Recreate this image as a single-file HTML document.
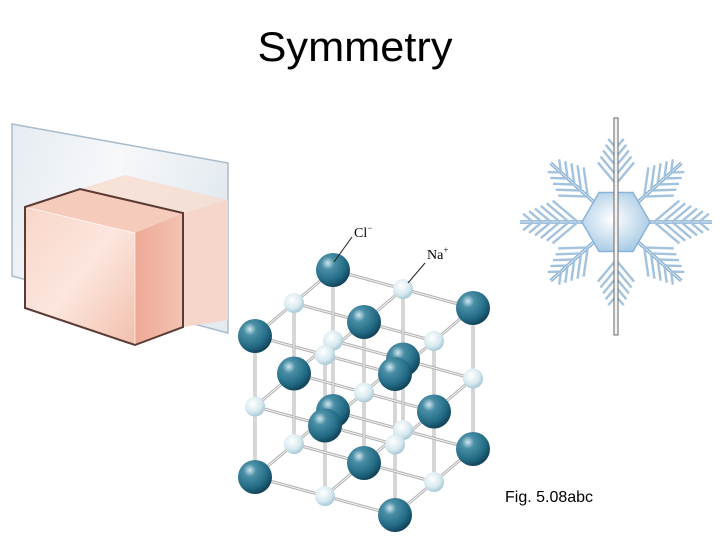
<!DOCTYPE html>
<html><head><meta charset="utf-8"><style>
html,body{margin:0;padding:0;background:#fff;width:720px;height:540px;overflow:hidden}
svg{display:block}
</style></head><body>
<svg id="s" width="720" height="540" viewBox="0 0 720 540" xmlns="http://www.w3.org/2000/svg">
<defs>
<radialGradient id="cl" cx="0.35" cy="0.3" r="0.75">
<stop offset="0" stop-color="#cfe6ee"/><stop offset="0.25" stop-color="#4a8fa6"/><stop offset="0.7" stop-color="#226a84"/><stop offset="1" stop-color="#0f3e52"/></radialGradient>
<radialGradient id="na" cx="0.4" cy="0.35" r="0.7">
<stop offset="0" stop-color="#ffffff"/><stop offset="0.6" stop-color="#d8eaf0"/><stop offset="1" stop-color="#9fc3d0"/></radialGradient>
<linearGradient id="plane" x1="0" y1="0" x2="1" y2="0.3">
<stop offset="0" stop-color="#e6ecf2"/><stop offset="0.5" stop-color="#f6f8fa"/><stop offset="1" stop-color="#e3eaf0"/></linearGradient>
<linearGradient id="front" x1="0" y1="0" x2="1" y2="1">
<stop offset="0" stop-color="#f8d6c9"/><stop offset="0.5" stop-color="#fce6de"/><stop offset="1" stop-color="#f2bfac"/></linearGradient>
<linearGradient id="side" x1="0" y1="0" x2="1" y2="0">
<stop offset="0" stop-color="#eea995"/><stop offset="1" stop-color="#f3c3b2"/></linearGradient>
<radialGradient id="hex" cx="0.45" cy="0.45" r="0.6">
<stop offset="0" stop-color="#ffffff"/><stop offset="1" stop-color="#a6c9e4"/></radialGradient>
</defs>
<text x="355" y="61" font-family="Liberation Sans, sans-serif" font-size="42" text-anchor="middle" textLength="195" lengthAdjust="spacingAndGlyphs">Symmetry</text>

<polygon points="12,124 228,163 228,333 12,276" fill="url(#plane)" stroke="#a9bccb" stroke-width="1.5"/>
<polygon points="80,189 125,175 228,200 228,320 183,327 183,213" fill="#f8dcd0" opacity="0.8"/>
<polygon points="183,213 228,200 228,320 183,327" fill="#f6d2c4" opacity="0.7"/>
<polygon points="25,207 80,189 183,213 135,233" fill="#f5cbbb"/>
<polygon points="25,207 135,233 135,345 25,308" fill="url(#front)"/>
<polygon points="135,233 183,213 183,327 135,345" fill="url(#side)"/>
<polyline points="25,207 135,233 135,345" fill="none" stroke="#fff" stroke-width="1" opacity="0.6"/>
<polygon points="25,207 80,189 183,213 183,327 135,345 25,308" fill="none" stroke="#5a3a32" stroke-width="2"/>

<g id="lat"></g>
<line x1="334" y1="262" x2="352" y2="237" stroke="#222" stroke-width="1"/>
<text x="354" y="237" font-family="Liberation Serif, serif" font-size="14">Cl<tspan dy="-6" font-size="9">−</tspan></text>
<line x1="408" y1="283" x2="425" y2="263" stroke="#222" stroke-width="1"/>
<text x="427" y="259" font-family="Liberation Serif, serif" font-size="14">Na<tspan dy="-6" font-size="9">+</tspan></text>

<g id="snow"></g>
<rect x="614" y="118" width="4" height="217" fill="#f4f4f4" stroke="#666" stroke-width="1"/>

<text x="505" y="502" font-family="Liberation Sans, sans-serif" font-size="16">Fig. 5.08abc</text>
</svg>
<script>
var NS="http://www.w3.org/2000/svg";
function el(p,t,a){var e=document.createElementNS(NS,t);for(var k in a)e.setAttribute(k,a[k]);p.appendChild(e);return e;}
var lat=document.getElementById('lat');
function P(i,j,k){return [255+i*39+j*70,336-i*33+j*19+k*70.5];}
for(var i=0;i<3;i++)for(var j=0;j<3;j++)for(var k=0;k<3;k++){
 var a=P(i,j,k);var nb=[[i+1,j,k],[i,j+1,k],[i,j,k+1]];
 nb.forEach(function(n){if(n[0]<3&&n[1]<3&&n[2]<3){var b=P(n[0],n[1],n[2]);
  el(lat,'line',{x1:a[0],y1:a[1],x2:b[0],y2:b[1],stroke:'#b0b0b0','stroke-width':3});
  el(lat,'line',{x1:a[0],y1:a[1],x2:b[0],y2:b[1],stroke:'#f4f4f4','stroke-width':1.1});}});
}
var pts=[];
for(var i=0;i<3;i++)for(var j=0;j<3;j++)for(var k=0;k<3;k++)pts.push([i,j,k]);
pts.sort(function(a,b){return (a[1]-a[0])-(b[1]-b[0]);});
pts.forEach(function(p){var c=P(p[0],p[1],p[2]);var cl=(p[0]+p[1]+p[2])%2==0;
 el(lat,'circle',{cx:c[0],cy:c[1],r:cl?17:10,fill:cl?'url(#cl)':'url(#na)'});});
var sn=document.getElementById('snow');var cx=616,cy=222;
var arms=[[0,96],[180,96],[-42,88],[-138,88],[42,88],[138,88],[-90,85],[90,85]];
arms.forEach(function(ar){var t=ar[0]*Math.PI/180,L=ar[1];var dx=Math.cos(t),dy=Math.sin(t);
 el(sn,'line',{x1:cx,y1:cy,x2:cx+dx*L,y2:cy+dy*L,stroke:'#7fa9cf','stroke-width':3.5});
 el(sn,'line',{x1:cx,y1:cy,x2:cx+dx*L,y2:cy+dy*L,stroke:'#d8e8f5','stroke-width':1.2});
 for(var s=38;s<L-6;s+=9){var bl=(L-s)*0.45+7;
  [1,-1].forEach(function(sg){var bt=t+sg*Math.PI/4.5;var bx=cx+dx*s,by=cy+dy*s;
   el(sn,'line',{x1:bx,y1:by,x2:bx+Math.cos(bt)*bl,y2:by+Math.sin(bt)*bl,stroke:'#a3c2de','stroke-width':2.4});});}
});
var hp=[];for(var a=0;a<6;a++){var t=a*Math.PI/3;hp.push((cx+Math.cos(t)*34)+','+(cy+Math.sin(t)*34));}
el(sn,'polygon',{points:hp.join(' '),fill:'url(#hex)',stroke:'#8cb4d6','stroke-width':1.5});
</script>
</body></html>
